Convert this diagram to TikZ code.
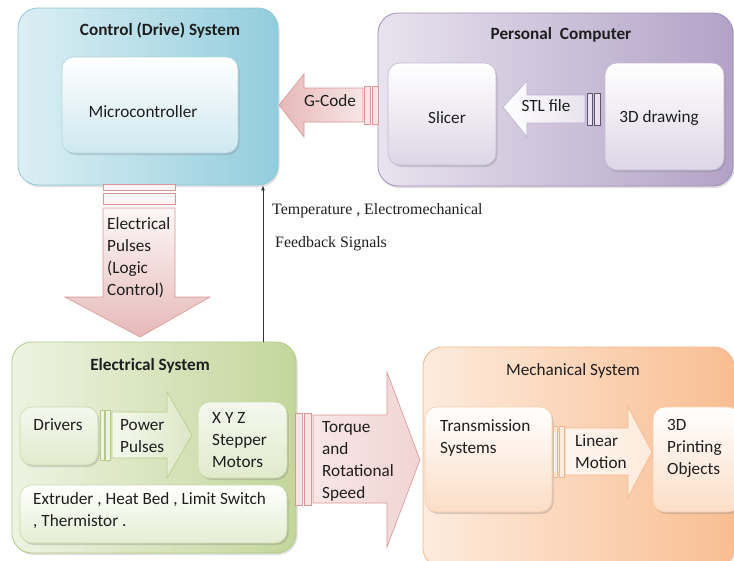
\documentclass[tikz,border=0pt]{standalone}
\usepackage{fontspec}
\setmainfont{Carlito}
\newfontfamily\fbfont{Liberation Serif}
\usetikzlibrary{positioning,shadows}
\definecolor{ink}{HTML}{1E1E1E}
\definecolor{ctrllo}{HTML}{DCEFF4}
\definecolor{ctrlhi}{HTML}{93CDDD}
\definecolor{ctrledge}{HTML}{8EC6D6}
\definecolor{pclo}{HTML}{E8E3EE}
\definecolor{pchi}{HTML}{B3A2C7}
\definecolor{pcedge}{HTML}{A08CBA}
\definecolor{eleclo}{HTML}{EEF3E2}
\definecolor{elechi}{HTML}{C3D69B}
\definecolor{elecedge}{HTML}{B3CB86}
\definecolor{mechlo}{HTML}{FDEBDD}
\definecolor{mechhi}{HTML}{F9BE92}
\definecolor{mechedge}{HTML}{F4B689}
\definecolor{pinklo}{HTML}{F8E6E6}
\definecolor{pinkhi}{HTML}{E6B9B8}
\definecolor{pinkedge}{HTML}{D99694}
\tikzset{
  sysbox/.style={rounded corners=20pt,line width=0.8pt,drop shadow={opacity=0.25,shadow xshift=1.5pt,shadow yshift=-2pt}},
  unit/.style={rounded corners=12pt,line width=0.6pt,drop shadow={opacity=0.3,shadow xshift=1.5pt,shadow yshift=-2pt}},
  lbl/.style={inner sep=0pt,align=left,text=ink,font=\fontsize{17.2}{22}\selectfont},
  ttl/.style={lbl,font=\fontsize{17.2}{22}\selectfont\bfseries},
}
\begin{document}
\begin{tikzpicture}[x=1pt,y=-1pt]
\tikzset{
  pinkbar/.style={draw=pinkedge,fill=pinklo,line width=0.6pt},
  fbline/.style={-latex,line width=0.7pt,draw=black!80},
}
\useasboundingbox (0,0) rectangle (734,560);
\node[sysbox,draw=ctrledge,left color=ctrllo,right color=ctrlhi,minimum width=260pt,minimum height=177pt] (ctrl) at (148,96.5) {};
\node[sysbox,draw=pcedge,left color=pclo,right color=pchi,minimum width=355pt,minimum height=173pt] (pc) at (555.5,99.5) {};
\node[sysbox,draw=elecedge,left color=eleclo,right color=elechi,minimum width=284pt,minimum height=211pt] (elec) at (154,447.5) {};
\node[sysbox,draw=mechedge,left color=mechlo,right color=mechhi,minimum width=311pt,minimum height=221pt] (mech) at (578.5,457.5) {};
\node[unit,draw=ctrledge!70,top color=white,bottom color=ctrllo!80!ctrlhi,minimum width=176pt,minimum height=96pt] (micro) at (150,105) {};
\node[unit,draw=pcedge!60,top color=white,bottom color=pclo!80!pchi,minimum width=108pt,minimum height=102pt] (slicer) at (442,114) {};
\node[unit,draw=pcedge!60,top color=white,bottom color=pclo!80!pchi,minimum width=119pt,minimum height=107pt] (draw3d) at (664.5,116.5) {};
\node[unit,draw=elecedge!70,top color=white!40!eleclo,bottom color=eleclo!70!elechi,minimum width=78pt,minimum height=58pt] (drivers) at (59,436) {};
\node[unit,draw=elecedge!70,top color=white!40!eleclo,bottom color=eleclo!70!elechi,minimum width=89pt,minimum height=76pt] (motors) at (242.5,440) {};
\node[unit,draw=elecedge!70,top color=white,bottom color=eleclo!80!elechi,minimum width=267pt,minimum height=58pt] (extr) at (153.5,514) {};
\node[unit,draw=mechedge!70,top color=white,bottom color=mechlo!70!mechhi,minimum width=127pt,minimum height=105pt] (trans) at (488.5,459.5) {};
\node[unit,draw=mechedge!70,top color=white,bottom color=mechlo!70!mechhi,minimum width=87pt,minimum height=105pt] (objects) at (696.5,459.5) {};
\shade[draw=pinkedge,line width=0.6pt,left color=pinkhi,right color=pinklo] (279,105) -- (304,74) -- (304,88) -- (363,88) -- (363,122) -- (304,122) -- (304,137) -- cycle;
\filldraw[pinkbar] (364,86) rectangle (370,124);
\filldraw[pinkbar] (372,86) rectangle (378,124);
\shade[draw=pcedge!70,line width=0.6pt,left color=white,right color=pclo] (503,107) -- (527,81) -- (527,95) -- (585,95) -- (585,123) -- (527,123) -- (527,137) -- cycle;
\filldraw[draw=pcedge!60!black,fill=pclo,line width=0.6pt] (587,93) rectangle (592,125);
\filldraw[draw=pcedge!60!black,fill=pclo,line width=0.6pt] (594,93) rectangle (600,125);
\shade[draw=pinkedge,line width=0.6pt,top color=white!70!pinklo,bottom color=pinkhi] (103,208) -- (175,208) -- (175,297) -- (210,297) -- (140,337) -- (65,297) -- (103,297) -- cycle;
\filldraw[pinkbar,fill=white!60!pinklo] (103,184) rectangle (175,190);
\filldraw[pinkbar,fill=white!60!pinklo] (103,193) rectangle (175,204);
\shade[draw=elecedge,line width=0.6pt,left color=eleclo!60!white,right color=eleclo!60!elechi] (112,412) -- (167,412) -- (167,392) -- (192,435) -- (167,478) -- (167,458) -- (112,458) -- cycle;
\filldraw[draw=elecedge,fill=eleclo,line width=0.6pt] (100,410) rectangle (104,460);
\filldraw[draw=elecedge,fill=eleclo,line width=0.6pt] (105,410) rectangle (110,460);
\shade[draw=pinkedge,line width=0.6pt,left color=pinklo,right color=pinklo!60!pinkhi] (313,415) -- (387,415) -- (387,372) -- (420,460) -- (387,547) -- (387,503) -- (313,503) -- cycle;
\filldraw[pinkbar] (295,413) rectangle (302,505);
\filldraw[pinkbar] (304,413) rectangle (311,505);
\shade[draw=mechedge,line width=0.6pt,left color=white!50!mechlo,right color=mechlo] (565,428) -- (628,428) -- (628,407) -- (652,452) -- (628,497) -- (628,475) -- (565,475) -- cycle;
\filldraw[draw=mechedge,fill=mechlo,line width=0.6pt] (553,426) rectangle (557,477);
\filldraw[draw=mechedge,fill=mechlo,line width=0.6pt] (559,426) rectangle (564,477);
\coordinate (fbx) at (263,0);
\draw[fbline] (elec.north -| fbx) -- (ctrl.south -| fbx);
\node[ttl] (ctrlttl) at (160,30) {Control (Drive) System};
\node[ttl] (pcttl) at (561,35) {Personal~ Computer};
\node[ttl] (electtl) at (150,366) {Electrical System};
\node[lbl] (mechttl) at (573,371) {Mechanical System};
\node[lbl] (microtxt) at (143,112) {Microcontroller};
\node[lbl] (gcodetxt) at (330,101) {G-Code};
\node[lbl] (slicertxt) at (447,118) {Slicer};
\node[lbl] (stltxt) at (546,106) {STL file};
\node[lbl] (draw3dtxt) at (659,118) {3D drawing};
\node[lbl,anchor=west] (pulsetxt) at (107,258) {Electrical\\Pulses\\(Logic\\Control)};
\node[lbl,anchor=west,font=\fbfont\fontsize{15.9}{22}\selectfont] (fbtxt1) at (272,211) {Temperature , Electromechanical};
\node[lbl,anchor=west,font=\fbfont\fontsize{15.9}{22}\selectfont] (fbtxt2) at (275,244) {Feedback Signals};
\node[lbl] (driverstxt) at (58,425) {Drivers};
\node[lbl,anchor=west] (powertxt) at (120,436) {Power\\Pulses};
\node[lbl,anchor=west] (motorstxt) at (212,440) {X Y Z\\Stepper\\Motors};
\node[lbl,anchor=west] (extrtxt) at (33,511) {Extruder , Heat Bed , Limit Switch\\, Thermistor .};
\node[lbl,anchor=west] (torquetxt) at (322,461) {Torque\\and\\Rotational\\Speed};
\node[lbl,anchor=west] (transtxt) at (440,437.5) {Transmission\\Systems};
\node[lbl,anchor=west] (lineartxt) at (575,452) {Linear\\Motion};
\node[lbl,anchor=west] (objtxt) at (667,448) {3D\\Printing\\Objects};
\end{tikzpicture}
\end{document}
